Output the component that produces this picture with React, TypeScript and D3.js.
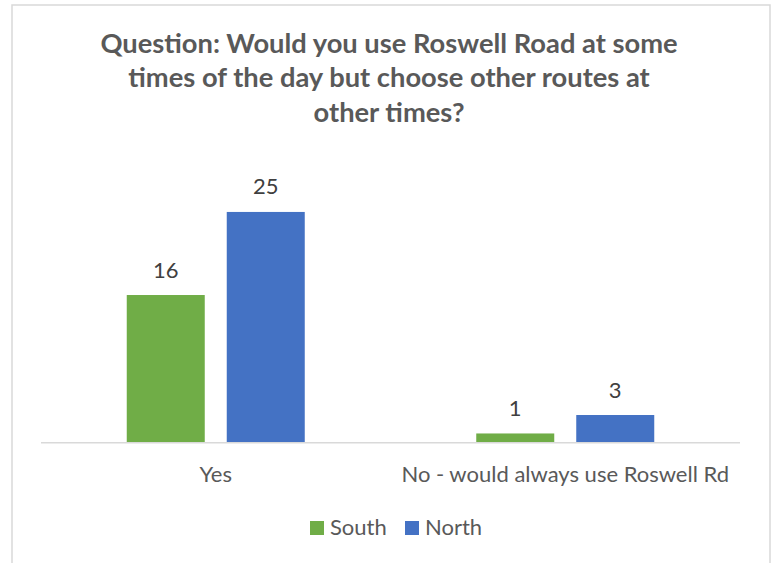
import React from "react";
import * as d3 from "d3";

const categories = ["Yes", "No - would always use Roswell Rd"];
const seriesNames = ["South", "North"];
const southValues = [16, 1];
const northValues = [25, 3];
const titleLines = [
  "Question: Would you use Roswell Road at some",
  "times of the day but choose other routes at",
  "other times?",
];

const colors: Record<string, string> = { South: "#70AD47", North: "#4472C4" };
const FONT = "Lato, 'Open Sans', sans-serif";

export default function App() {
  const W = 775;
  const H = 563;
  const left = 41;
  const right = 740;
  const baseY = 442.7;
  const topY = 165.8;

  const x0 = d3.scaleBand<string>().domain(categories).range([left, right]).padding(0);
  const groupW = 178;
  const x1 = d3.scaleBand<string>().domain(seriesNames).range([0, groupW]).paddingInner(0.22);
  const y = d3.scaleLinear().domain([0, 30]).range([baseY, topY]);

  const data = categories.map((c, i) => ({
    cat: c,
    vals: [
      { s: "South", v: southValues[i] },
      { s: "North", v: northValues[i] },
    ],
  }));

  const titleCenter = 389;

  return (
    <svg
      width={W}
      height={H}
      style={{ position: "absolute", left: 0, top: 0, background: "#fff" }}
      fontFamily={FONT}
    >
      <rect x={12} y={5} width={758} height={600} fill="#fff" stroke="#D9D9D9" strokeWidth={1.5} />
      <text
        textAnchor="middle"
        fill="#595959"
        fontWeight="bold"
        fontSize={27.3}
      >
        {titleLines.map((t, i) => (
          <tspan key={i} x={titleCenter} y={53 + i * 34.4}>
            {t}
          </tspan>
        ))}
      </text>

      {data.map((d) => {
        const gx = (x0(d.cat) as number) + (x0.bandwidth() - groupW) / 2;
        return (
          <g key={d.cat}>
            {d.vals.map((b) => {
              const bx = gx + (x1(b.s) as number);
              const bw = x1.bandwidth();
              return (
                <g key={b.s}>
                  <rect x={bx} y={y(b.v)} width={bw} height={baseY - y(b.v)} fill={colors[b.s]} />
                  <text
                    x={bx + bw / 2}
                    y={y(b.v) - 17.5}
                    textAnchor="middle"
                    fill="#404040"
                    fontSize={22}
                  >
                    {b.v}
                  </text>
                </g>
              );
            })}
            <text
              x={(x0(d.cat) as number) + x0.bandwidth() / 2}
              y={481.5}
              textAnchor="middle"
              fill="#595959"
              fontSize={22}
            >
              {d.cat}
            </text>
          </g>
        );
      })}

      <line x1={left} x2={right} y1={baseY} y2={baseY} stroke="#D9D9D9" strokeWidth={1.5} />

      {seriesNames.map((s, i) => {
        const lx = [310, 405][i];
        return (
          <g key={s}>
            <rect x={lx} y={521} width={14} height={14} fill={colors[s]} />
            <text x={lx + 20} y={534.5} fill="#595959" fontSize={22}>
              {s}
            </text>
          </g>
        );
      })}
    </svg>
  );
}
